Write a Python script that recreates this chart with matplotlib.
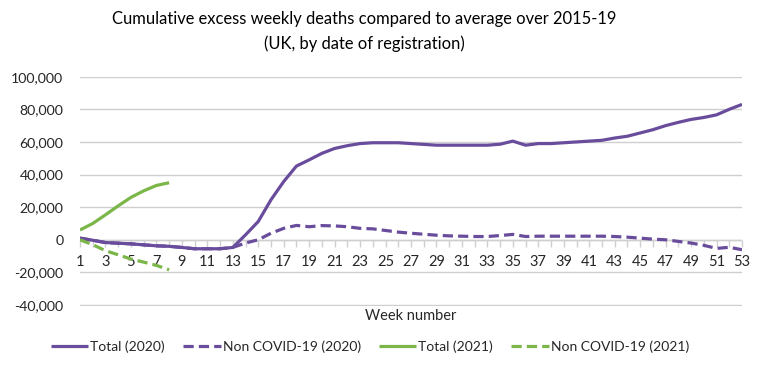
import matplotlib
matplotlib.use("Agg")
import matplotlib.pyplot as plt
from matplotlib.ticker import FuncFormatter
import numpy as np

plt.rcParams['font.family'] = ['Lato', 'DejaVu Sans']

weeks_2020 = list(range(1, 54))
total_2020 = [1000, -300, -1700, -2100, -2500, -3100, -3700, -4000, -4700, -5500,
              -5500, -5500, -4700, 3000, 11200, 24500, 35700, 45200, 49000, 53000,
              56000, 57700, 59000, 59500, 59500, 59500, 59000, 58500, 58000, 58000,
              58000, 58000, 58000, 58600, 60500, 58000, 59000, 59000, 59500, 60000,
              60500, 61000, 62400, 63500, 65500, 67500, 70000, 72000, 73800, 75000,
              76600, 80000, 83000]
noncovid_2020 = [1000, -300, -1700, -2100, -2500, -3100, -3700, -4000, -4700, -5500,
                 -5500, -5500, -4700, -2000, 0, 4000, 7000, 8800, 8000, 8700,
                 8500, 8000, 7000, 6700, 5700, 4700, 4000, 3400, 2800, 2400,
                 2200, 2000, 2000, 2600, 3300, 2000, 2200, 2200, 2200, 2200,
                 2200, 2200, 2000, 1600, 1000, 400, 0, -1000, -2000, -3400,
                 -5300, -4600, -6100]
weeks_2021 = list(range(1, 9))
total_2021 = [6000, 10000, 15300, 20800, 26000, 30000, 33300, 35000]
noncovid_2021 = [0, -3000, -6700, -9200, -11800, -13700, -15700, -18400]

y_ticks = [-40000, -20000, 0, 20000, 40000, 60000, 80000, 100000]

title = "Cumulative excess weekly deaths compared to average over 2015-19\n(UK, by date of registration)"
series_labels = ["Total (2020)", "Non COVID-19 (2020)", "Total (2021)", "Non COVID-19 (2021)"]

purple = "#6a4c9c"
green = "#7ab648"
grid_c = "#cfcfcf"
text_c = "#262626"

fig = plt.figure(figsize=(7.7, 3.69), dpi=100)
ax = fig.add_axes([80/770, 1-305.5/369, (742-80)/770, (305.5-76.7)/369])

lw = 2.3
ax.plot(weeks_2020, total_2020, color=purple, lw=lw, solid_capstyle='butt', label=series_labels[0], zorder=3)
ax.plot(weeks_2020, noncovid_2020, color=purple, lw=lw, dashes=(3.2, 1.6), label=series_labels[1], zorder=3)
ax.plot(weeks_2021, total_2021, color=green, lw=lw, solid_capstyle='butt', label=series_labels[2], zorder=3)
ax.plot(weeks_2021, noncovid_2021, color=green, lw=lw, dashes=(3.2, 1.6), label=series_labels[3], zorder=3)

ylim = (-40300, 100000)
ax.set_xlim(1, 53)
ax.set_ylim(*ylim)
ax.set_yticks(y_ticks)
ax.yaxis.set_major_formatter(FuncFormatter(lambda v, p: f"{int(v):,}"))
ax.grid(axis='y', color=grid_c, lw=1.0, zorder=0)
ax.set_axisbelow(True)
ax.axhline(0, color=grid_c, lw=1.0, zorder=1)

for s in ['top', 'right', 'left', 'bottom']:
    ax.spines[s].set_visible(False)
ax.tick_params(axis='x', which='both', length=0, labelbottom=False)
ax.tick_params(axis='y', length=0, pad=12, labelsize=10.2, labelcolor=text_c)

zero_frac = (0 - ylim[0]) / (ylim[1] - ylim[0])
sec = ax.secondary_xaxis(zero_frac)
for s in sec.spines.values():
    s.set_visible(False)
sec.set_xticks(list(range(1, 54, 2)))
sec.set_xticks(list(range(2, 54, 2)), minor=True)
sec.tick_params(axis='x', which='both', direction='out', length=5, color=grid_c, width=1.0)
sec.tick_params(axis='x', which='major', pad=6, labelsize=10.5, labelcolor=text_c)

fig.text(364/770, 1-31.5/369, title, ha='center', va='center', fontsize=11.9, color='black', linespacing=1.6)
fig.text(411/770, 1-316/369, "Week number", ha='center', va='center', fontsize=10.5, color=text_c)

leg = ax.legend(loc='center', bbox_to_anchor=(370/770, 1-347/369), bbox_transform=fig.transFigure,
                ncol=4, frameon=False, fontsize=10, handlelength=2.7, handletextpad=0.15,
                columnspacing=1.3, labelcolor=text_c)

fig.savefig("out.png", dpi=100)
